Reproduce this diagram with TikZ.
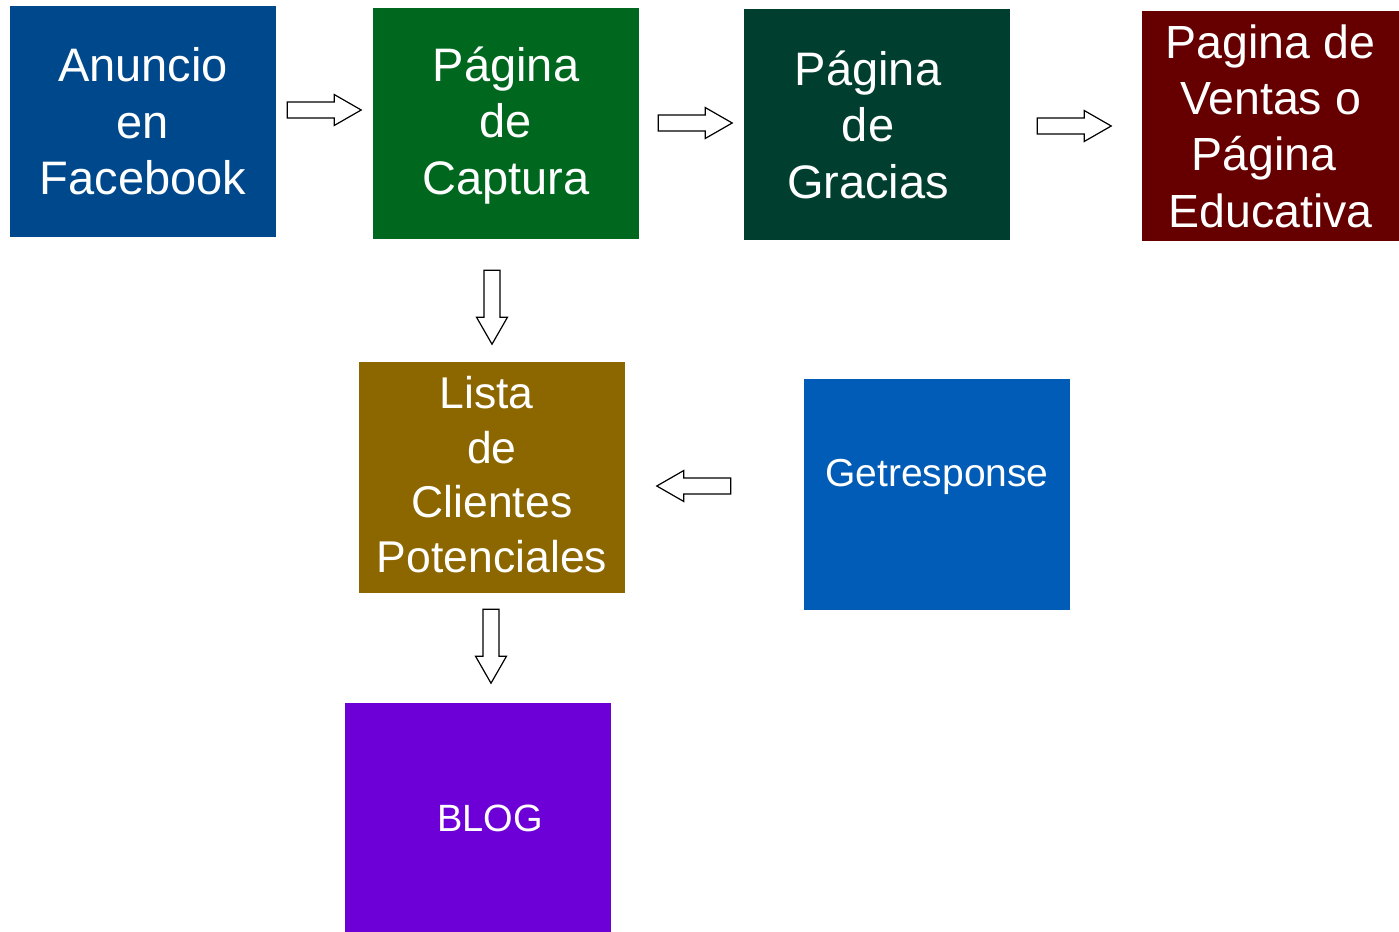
\documentclass[tikz,border=0pt]{standalone}
\usepackage{fontspec}
\setmainfont{Liberation Sans}
\usetikzlibrary{calc}
\definecolor{cfb}{RGB}{0,72,140}
\definecolor{ccap}{RGB}{0,104,30}
\definecolor{cgra}{RGB}{0,63,47}
\definecolor{cven}{RGB}{102,0,0}
\definecolor{clis}{RGB}{140,103,0}
\definecolor{cget}{RGB}{0,92,182}
\definecolor{cblog}{RGB}{108,0,214}
\tikzset{
  box/.style={rectangle, inner sep=0pt, minimum width=266pt, minimum height=231pt, text=white, align=center},
  big/.style={font=\fontsize{47}{56.5}\selectfont},
  arrowline/.style={draw=black, fill=white, line width=1.2pt, line join=miter},
}
\newcommand{\blockarrow}[2]{\begin{scope}[shift={#1},rotate=#2]\draw[arrowline] (0,-8)--(47,-8)--(47,-15.5)--(74,0)--(47,15.5)--(47,8)--(0,8)--cycle;\end{scope}}
\begin{document}
\begin{tikzpicture}[x=1pt,y=-1pt]
\fill[white] (0,0) rectangle (1399,931);
\useasboundingbox (0,0) rectangle (1399,931);
\begin{scope}
\clip (0,0) rectangle (1399,931);
\node[box, big, fill=cfb] (fb) at (143,121.5) {Anuncio\\en\\Facebook};
\node[box, fill=ccap, label={[big, text=white, align=center, yshift=-2pt]center:{Página\\de\\Captura}}] (cap) at (506,123.5) {};
\node[box, fill=cgra, label={[big, text=white, align=center, xshift=-9pt]center:{Página\\de\\Gracias}}] (gra) at (877,124.5) {};
\node[box, fill=cven, minimum width=257pt, minimum height=230pt, font=\fontsize{46.5}{56.3}\selectfont] (ven) at (1270.5,126) {Pagina de\\Ventas o\\Página\rule{13pt}{0pt}\\Educativa};
\node[box, fill=clis, label={[text=white, align=center, font=\fontsize{44.5}{54.5}\selectfont, yshift=3pt]center:{Lista\rule{11pt}{0pt}\\de\\Clientes\\Potenciales}}] (lis) at (492,477.5) {};
\node[box, fill=cget, label={[text=white, font=\fontsize{39}{46}\selectfont, yshift=18pt]center:Getresponse}] (get) at (937,494.5) {};
\node[box, fill=cblog, label={[text=white, font=\fontsize{38}{46}\selectfont, xshift=12pt]center:BLOG}] (blog) at (478,818.5) {};
\end{scope}
\blockarrow{($(fb.east)+(11,-11.5)$)}{0}
\blockarrow{($(cap.east)+(19,-0.5)$)}{0}
\blockarrow{($(gra.east)+(27,1.5)$)}{0}
\blockarrow{($(cap.south)+(-14,31)$)}{-90}
\blockarrow{($(get.west)+(-73,-8.5)$)}{180}
\blockarrow{($(lis.south)+(-1,16)$)}{-90}
\end{tikzpicture}
\end{document}
